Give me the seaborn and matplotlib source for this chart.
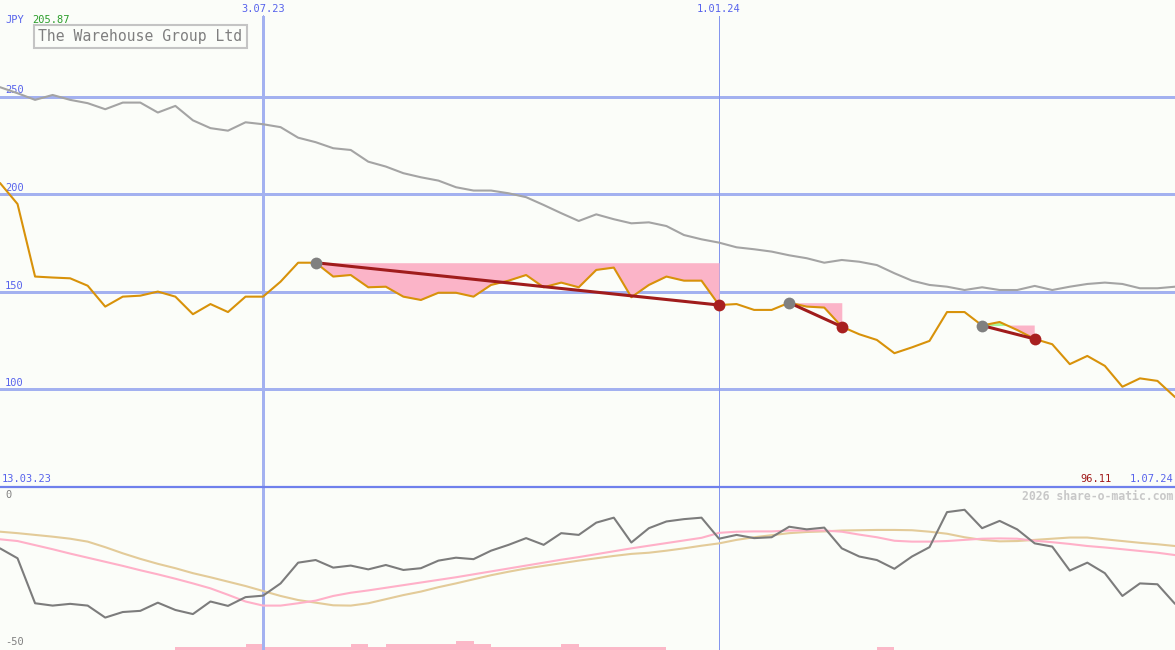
import matplotlib
matplotlib.use("Agg")
import matplotlib.pyplot as plt
import numpy as np
import seaborn as sns

# weekly closes, JPY
price = [205.87, 195.1, 157.9, 157.4, 157.0, 153.2, 142.5, 147.6, 148.1, 150.2,
         147.6, 138.6, 143.8, 139.7, 147.6, 147.6, 155.3, 165.0, 165.0, 157.9,
         158.7, 152.4, 152.7, 147.6, 145.9, 149.6, 149.6, 147.6, 153.6, 155.8,
         158.7, 152.4, 154.8, 152.4, 161.3, 162.5, 147.3, 153.6, 157.9, 155.8,
         155.8, 143.3, 143.8, 140.8, 140.8, 144.5, 142.5, 142.0, 132.2, 128.3,
         125.4, 118.6, 121.6, 124.9, 139.7, 139.7, 132.8, 134.6, 130.5, 125.9,
         123.2, 113.0, 117.2, 112.1, 101.4, 105.7, 104.4, 96.11]
# comparison line (grey)
bench = [255, 251.9, 248.5, 251, 248.5, 246.8, 243.7, 247.1, 247.1, 242,
         245.4, 238, 234, 232.7, 237, 236, 234.5, 229.1, 226.8, 223.7,
         222.8, 216.8, 214.3, 210.9, 208.8, 207.1, 203.7, 202, 202, 200.6,
         198.6, 194.6, 190.4, 186.4, 189.8, 187.3, 185.2, 185.7, 183.8, 179.2,
         177, 175.3, 172.9, 171.9, 170.7, 168.8, 167.3, 165, 166.4, 165.5,
         163.8, 159.6, 155.8, 153.6, 152.7, 151, 152.4, 151, 151, 153.1,
         151, 152.7, 154.1, 154.8, 154.1, 151.9, 151.9, 152.7]
# oscillator panel
osc = [-15.9, -19.3, -34.7, -35.5, -34.9, -35.5, -39.6, -37.7, -37.3, -34.5,
       -37.0, -38.4, -34.1, -35.6, -32.6, -32.1, -27.9, -20.8, -19.9, -22.5,
       -21.8, -23.1, -21.6, -23.3, -22.7, -20.1, -19.1, -19.6, -16.7, -14.7,
       -12.4, -14.7, -10.7, -11.3, -7.1, -5.4, -13.9, -9.0, -6.7, -5.9,
       -5.4, -12.6, -11.3, -12.4, -12.1, -8.5, -9.4, -8.8, -15.9, -18.7,
       -19.9, -22.9, -18.7, -15.5, -3.5, -2.7, -9.0, -6.5, -9.4, -14.2,
       -15.3, -23.5, -20.8, -24.4, -32.2, -27.9, -28.2, -34.9]
osc_fast = [-12.8, -13.4, -14.8, -16.2, -17.7, -19.1, -20.5, -21.9, -23.4, -24.8,
            -26.3, -27.9, -29.6, -31.8, -34.1, -35.5, -35.5, -34.7, -33.8, -32.2,
            -31.1, -30.3, -29.4, -28.5, -27.6, -26.7, -25.8, -24.8, -23.8, -22.8,
            -21.8, -20.8, -19.8, -18.9, -17.9, -16.9, -15.9, -15.0, -14.1, -13.2,
            -12.3, -10.6, -10.2, -10.1, -10.1, -9.8, -9.8, -9.8, -10.2, -11.2,
            -12.1, -13.3, -13.6, -13.6, -13.4, -13.0, -12.6, -12.5, -12.6, -13.3,
            -13.8, -14.4, -15.1, -15.6, -16.2, -16.8, -17.4, -18.2]
osc_slow = [-10.2, -10.7, -11.3, -11.9, -12.6, -13.6, -15.5, -17.6, -19.5, -21.2,
            -22.7, -24.4, -25.8, -27.3, -28.8, -30.5, -32.2, -33.6, -34.5, -35.4,
            -35.5, -34.7, -33.3, -31.9, -30.7, -29.2, -27.9, -26.5, -25.1, -23.9,
            -22.8, -21.9, -21.0, -20.1, -19.3, -18.5, -17.8, -17.4, -16.7, -15.9,
            -15.0, -14.2, -13.0, -12.1, -11.4, -10.7, -10.3, -10.1, -9.8, -9.7,
            -9.6, -9.6, -9.7, -10.2, -10.9, -12.1, -13.0, -13.5, -13.4, -13.0,
            -12.6, -12.2, -12.2, -12.8, -13.4, -14.0, -14.5, -15.1]
volume = [0, 0, 0, 0, 0, 0, 0, 0, 0, 0,
          1, 1, 1, 1, 2, 1, 1, 1, 1, 1,
          2, 1, 2, 2, 2, 2, 3, 2, 1, 1,
          1, 1, 2, 1, 1, 1, 1, 1, 0, 0,
          0, 0, 0, 0, 0, 0, 0, 0, 0, 0,
          1, 0, 0, 0, 0, 0, 0, 0, 0, 0,
          0, 0, 0, 0, 0, 0, 0, 0]

# drawdown periods (start peak, end)
dd_start = [18, 45, 56]
dd_end = [41, 48, 59]

grid_levels = [100, 150, 200, 250]
date_ticks = [15, 41]
date_labels = ["3.07.23", "1.01.24"]

sns.set_style("white")
plt.rcParams['font.family'] = ['DejaVu Sans Mono', 'DejaVu Sans']

W, H = 1175, 650
bg = "#fbfdf9"
blue_grid = "#a3b1f0"
blue_txt = "#5763ec"

fig = plt.figure(figsize=(W / 100, H / 100), dpi=100, facecolor=bg)
split = 487
ax = fig.add_axes([0, 1 - split / H, 1, split / H])
ax2 = fig.add_axes([0, 0, 1, 1 - split / H])
idx = np.arange(len(price))
p = np.array(price)

for a in (ax, ax2):
    a.set_facecolor(bg)
    a.set_xlim(0, len(price) - 1)
    for s in a.spines.values():
        s.set_visible(False)
    a.set_xticks([])
    a.set_yticks([])

ax.set_ylim(50, 299.7)
ax2.set_ylim(-50.7, 5.1)

for g in grid_levels:
    ax.axhline(g, color=blue_grid, lw=1.0, zorder=1, antialiased=False)
    ax.text(5 / W * (len(price) - 1), g + 3.3, str(g), color=blue_txt, fontsize=7.5,
            va='center', ha='left', zorder=2)
for t, lw, c in zip(date_ticks, [1.0, 0.5], [blue_grid, "#8495ee"]):
    ax.axvline(t, ymax=1 - 16 / split, color=c, lw=lw, zorder=1, antialiased=False)
    ax2.axvline(t, color=c, lw=lw, zorder=1, antialiased=False)

# drawdown shading
for s, e in zip(dd_start, dd_end):
    xs = idx[s:e + 1]
    ys = p[s:e + 1]
    lvl = p[s]
    ax.fill_between(xs, lvl, ys, where=ys <= lvl, interpolate=True,
                    color="#fbb4c8", lw=0, zorder=2)
    ax.fill_between(xs, lvl, ys, where=ys >= lvl, interpolate=True,
                    color="#a8f898", lw=0, zorder=2)

sns.lineplot(x=idx, y=bench, ax=ax, color="#a4a4a4", linewidth=1.5, zorder=3)
sns.lineplot(x=idx, y=price, ax=ax, color="#d8920a", linewidth=1.5, zorder=4)

for s, e in zip(dd_start, dd_end):
    ax.plot([s, e], [p[s], p[e]], color="#a01c1c", lw=2.2, zorder=5)
    ax.plot(s, p[s], 'o', color="#808080", ms=8.5, mec="none", zorder=6)
    ax.plot(e, p[e], 'o', color="#a82020", ms=8.5, mec="none", zorder=6)

# lower panel
axv = ax2.twinx()
axv.set_ylim(0, 54)
axv.set_axis_off()
axv.bar(idx, volume, width=1.0, align='edge', color="#fbb8c8", lw=0, zorder=1)
sns.lineplot(x=idx, y=osc_slow, ax=ax2, color="#e3cb99", linewidth=1.5, zorder=3)
sns.lineplot(x=idx, y=osc_fast, ax=ax2, color="#ffb0c8", linewidth=1.5, zorder=3)
sns.lineplot(x=idx, y=osc, ax=ax2, color="#7c7c7c", linewidth=1.5, zorder=4)
ax2.set_zorder(axv.get_zorder() + 1)
ax2.patch.set_visible(False)


def ftext(x, y, s, **kw):
    fig.text(x / W, 1 - y / H, s, va='center', **kw)


# separator line
fig.add_artist(plt.Line2D([0, 1], [1 - split / H, 1 - split / H], color="#6f80ec", lw=1.6))

ftext(5, 20, "JPY", color=blue_txt, fontsize=7.5)
ftext(32, 20, "205.87", color="#2a9d2a", fontsize=7.5)
ftext(38, 36.5, "The Warehouse Group Ltd", color="#7f7f7f", fontsize=10.6,
      bbox=dict(boxstyle="square,pad=0.3", fc=bg, ec="#c4c4c4", lw=1.5))
for t, lab in zip(date_ticks, date_labels):
    ftext(t * W / (len(price) - 1), 9, lab, color=blue_txt, fontsize=7.5, ha='center')
ftext(2, 479, "13.03.23", color=blue_txt, fontsize=7.5)
ftext(1112, 479, "96.11", color="#a01818", fontsize=7.5, ha='right')
ftext(1173, 479, "1.07.24", color=blue_txt, fontsize=7.5, ha='right')
ftext(1173, 496, "2026 share-o-matic.com", color="#c8c8c8", fontsize=8.3,
      fontweight='bold', ha='right')
ftext(5, 495.5, "0", color="#808080", fontsize=7.5)
ftext(5, 642, "-50", color="#808080", fontsize=7.5)

fig.savefig("out.png", dpi=100, facecolor=bg)
